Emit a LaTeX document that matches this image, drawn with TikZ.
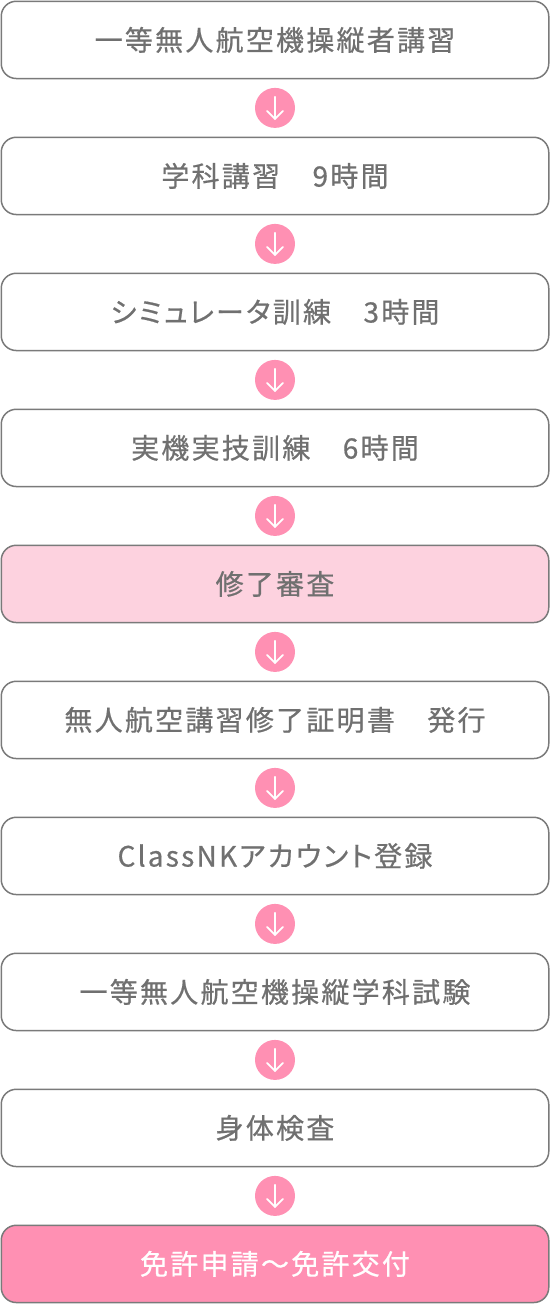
\documentclass[tikz,border=0pt]{standalone}
\usepackage{fontspec}
\usetikzlibrary{calc}
\newfontfamily\jp[LetterSpace=8,RawFeature=+palt,FakeBold=0.6]{Noto Sans CJK JP}
\definecolor{boxline}{HTML}{7A7A7A}
\definecolor{txtgray}{HTML}{707070}
\definecolor{lightpink}{HTML}{FDD2DF}
\definecolor{strongpink}{HTML}{FF90B3}
\tikzset{
  stepbox/.style={draw=boxline, line width=1.5pt, rounded corners=15pt, fill=white,
    minimum width=547.5pt, minimum height=77.25pt, inner sep=0pt, outer sep=0pt,
    text=txtgray, font=\jp\fontsize{28pt}{32pt}\selectfont},
  donebox/.style={stepbox, fill=lightpink},
  finalbox/.style={stepbox, fill=strongpink, text=white},
  arrowdot/.style={circle, fill=strongpink, minimum size=40pt, inner sep=0pt},
  arrowglyph/.style={draw=white, line width=1.8pt, line cap=round, line join=round}
}
\begin{document}
\begin{tikzpicture}[x=1pt,y=-1pt]
\useasboundingbox (0,0) rectangle (550,1305);
\node[stepbox]  (b1)  at (275, 39.9)  {一等無人航空機操縦者講習};
\node[stepbox]  (b2)  at (275, 175.9) {学科講習　9時間};
\node[stepbox]  (b3)  at (275, 311.9) {シミュレータ訓練　3時間};
\node[stepbox]  (b4)  at (275, 447.9) {実機実技訓練　6時間};
\node[donebox]  (b5)  at (275, 583.9) {修了審査};
\node[stepbox]  (b6)  at (275, 719.9) {無人航空講習修了証明書　発行};
\node[stepbox]  (b7)  at (275, 855.9) {ClassNKアカウント登録};
\node[stepbox]  (b8)  at (275, 991.9) {一等無人航空機操縦学科試験};
\node[stepbox]  (b9)  at (275, 1127.9) {身体検査};
\node[finalbox] (b10) at (275, 1263.9) {免許申請～免許交付};
\foreach \i/\j in {1/2,2/3,3/4,4/5,5/6,6/7,7/8,8/9,9/10} {
  \node[arrowdot] (c\i) at ($(b\i.south)!0.5!(b\j.north)$) {};
  \draw[arrowglyph] (c\i.center) ++(0,-11) -- ++(0,22);
  \draw[arrowglyph] (c\i.center) ++(-8,3) -- ++(8,8) -- ++(8,-8);
}
\end{tikzpicture}
\end{document}
